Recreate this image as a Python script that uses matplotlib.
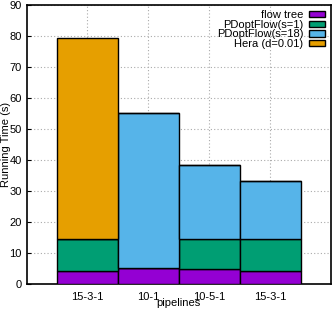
import matplotlib.pyplot as plt
import numpy as np

plt.rcParams['font.family'] = ['Liberation Sans', 'DejaVu Sans']

pipelines = ["15-3-1", "10-1", "10-5-1", "15-3-1"]
flow_tree = [4.3, 5.0, 4.8, 4.3]
pdopt_s1 = [10.1, 0.0, 9.6, 10.1]
pdopt_s18 = [0.0, 50.0, 24.0, 18.9]
hera = [65.0, 0.0, 0.0, 0.0]

series = [
    ("flow tree", flow_tree, "#9400d3"),
    ("PDoptFlow(s=1)", pdopt_s1, "#009e73"),
    ("PDoptFlow(s=18)", pdopt_s18, "#56b4e9"),
    ("Hera (d=0.01)", hera, "#e69f00"),
]

fig = plt.figure(figsize=(3.32, 3.09), dpi=100)
ax = fig.add_axes([0.08, 0.081, 0.917, 0.904])

x = np.arange(len(pipelines))
bottom = np.zeros(len(pipelines))
for name, vals, color in series:
    vals = np.array(vals)
    ax.bar(x, vals, width=1.0, bottom=bottom, color=color, edgecolor="black",
           linewidth=1.0, label=name, zorder=3)
    bottom += vals

ax.set_xlim(-1, 4)
ax.set_ylim(0, 90)
ax.set_yticks(range(0, 91, 10))
ax.set_xticks(x)
ax.set_xticklabels(pipelines)
ax.tick_params(axis="both", labelsize=8, direction="in", length=3, color="black")
ax.tick_params(axis="x", length=0, pad=6)
ax.grid(True, linestyle=(0, (1, 2)), color="#aaaaaa", linewidth=0.8, zorder=0)

for s in ax.spines.values():
    s.set_linewidth(1.2)

ax.set_ylabel("Running Time (s)", fontsize=8, labelpad=-1)
ax.set_xlabel("pipelines", fontsize=8, labelpad=-3)

ax.legend(loc="upper right", frameon=False, fontsize=8, markerfirst=False,
          handlelength=1.5, handleheight=0.5, labelspacing=-0.04,
          borderaxespad=0.3, handletextpad=0.5, borderpad=0.2)

plt.savefig("out.png", dpi=100)
